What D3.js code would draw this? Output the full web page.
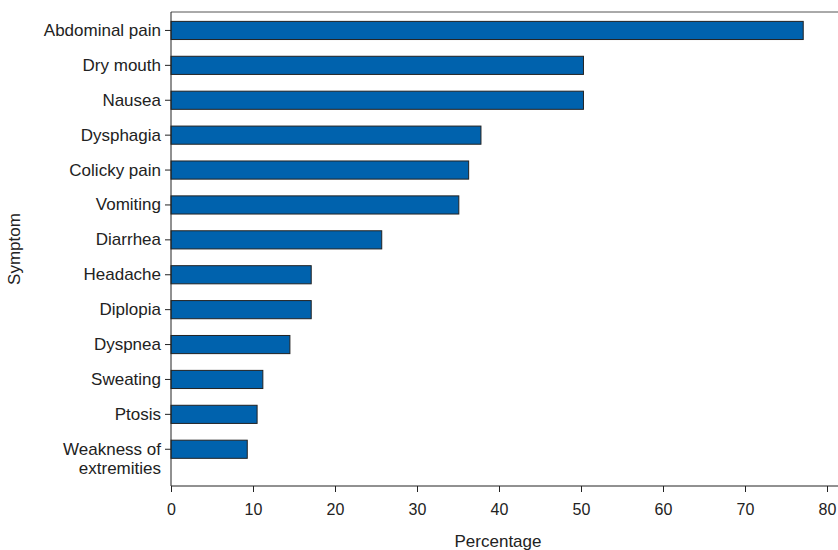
<!DOCTYPE html>
<html><head><meta charset="utf-8">
<script src="https://cdn.jsdelivr.net/npm/d3@7"></script>
<style>body{margin:0;background:#fff}text{font-family:"Liberation Sans",Arial,sans-serif}</style>
</head><body>
<svg id="chart" width="838" height="550"></svg>
<script>
const symptoms = ['Abdominal pain','Dry mouth','Nausea','Dysphagia','Colicky pain','Vomiting','Diarrhea','Headache','Diplopia','Dyspnea','Sweating','Ptosis','Weakness of extremities'];
const percentages = [77.1, 50.3, 50.3, 37.8, 36.3, 35.1, 25.7, 17.1, 17.1, 14.5, 11.2, 10.5, 9.3];
const xTicks = [0, 10, 20, 30, 40, 50, 60, 70, 80];

const svg = d3.select('#chart');
const plotLeft = 171, plotTop = 12, plotBottom = 486;

const x = d3.scaleLinear().domain([0, 80]).range([plotLeft, plotLeft + 656]);
const y = d3.scaleBand().domain(symptoms).range([13, 13 + 34.9 * 13]).paddingInner(0.48).paddingOuter(0.24);

svg.selectAll('rect.bar')
   .data(symptoms)
   .enter()
   .append('rect')
   .attr('x', x(0))
   .attr('y', d => y(d))
   .attr('width', (d, i) => x(percentages[i]) - x(0))
   .attr('height', y.bandwidth())
   .attr('fill', '#0062ad')
   .attr('stroke', '#222')
   .attr('stroke-width', 1);

// top frame line
svg.append('line').attr('x1', plotLeft).attr('x2', 838).attr('y1', plotTop).attr('y2', plotTop)
   .attr('stroke', '#555').attr('stroke-width', 1);

const xAxis = svg.append('g')
   .attr('transform', `translate(0, ${plotBottom})`)
   .call(d3.axisBottom(x).tickValues(xTicks).tickSize(6).tickPadding(12));
xAxis.select('.domain').attr('d', `M${plotLeft},0H838`);
xAxis.selectAll('text').attr('font-size', 16).attr('fill', '#222');

const yAxis = svg.append('g')
   .attr('transform', `translate(${plotLeft}, 0)`)
   .call(d3.axisLeft(y).tickSize(6).tickPadding(4));
yAxis.select('.domain').attr('d', `M0,${plotTop}V${plotBottom}`);
yAxis.selectAll('.tick text').attr('font-size', 17).attr('fill', '#222')
   .each(function(d) {
     if (d === 'Weakness of extremities') {
       const t = d3.select(this).text(null);
       t.append('tspan').attr('x', -10).attr('dy', '0.32em').text('Weakness of');
       t.append('tspan').attr('x', -10).attr('dy', '1.15em').text('extremities');
     }
   });
svg.selectAll('.domain, .tick line').attr('stroke', '#222');

svg.append('text').attr('x', 498).attr('y', 547).attr('text-anchor', 'middle')
   .attr('font-size', 17).attr('fill', '#222').text('Percentage');
svg.append('text').attr('transform', 'translate(20, 249) rotate(-90)').attr('text-anchor', 'middle')
   .attr('font-size', 17).attr('fill', '#222').text('Symptom');
</script>
</body></html>
